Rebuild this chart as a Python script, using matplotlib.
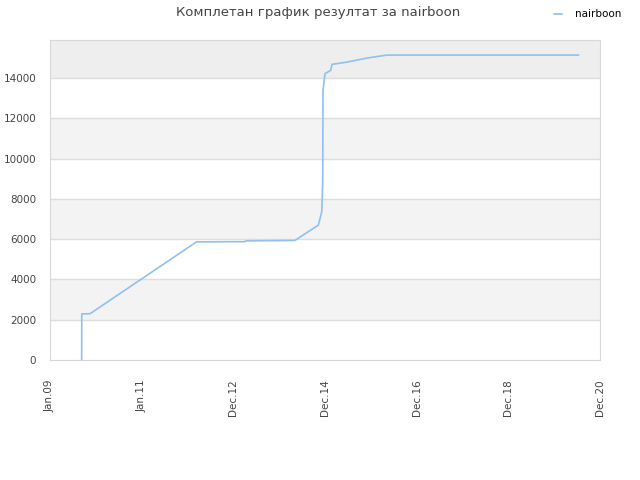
"""Cumulative score chart for nairboon."""
import datetime as dt
import numpy as np
import matplotlib
matplotlib.use('Agg')
import matplotlib.pyplot as plt
import matplotlib.dates as mdates

# data
dates = ['2009-09-10', '2009-09-11', '2009-11-16', '2012-03-13', '2013-04-03',
         '2013-04-10', '2014-05-05', '2014-11-08', '2014-12-05', '2014-12-13',
         '2014-12-15', '2014-12-31', '2015-02-14', '2015-02-25', '2015-06-22',
         '2015-11-28', '2016-05-05', '2020-07-10']
scores = [0, 2290, 2300, 5870, 5880, 5920, 5940, 6700, 7360, 8850,
          13400, 14230, 14390, 14690, 14800, 15000, 15150, 15150]
yticks = [0, 2000, 4000, 6000, 8000, 10000, 12000, 14000]
title = 'Комплетан график резултат за nairboon'
series_name = 'nairboon'

x_start = dt.datetime(2009, 1, 1)
tick_step = 730  # days, ticks are evenly spaced
x_ticks = [x_start + dt.timedelta(days=tick_step * i) for i in range(7)]
ymax = 15900

x = [dt.datetime.strptime(d, '%Y-%m-%d') for d in dates]

fig = plt.figure(figsize=(6.4, 4.8), dpi=100)
ax = fig.add_axes([50 / 640, 120 / 480, 550 / 640, 320 / 480])

# alternating bands
band_edges = yticks + [ymax]
for i in range(len(band_edges) - 1):
    if i % 2 == 1:
        col = '#eeeeee' if i == len(band_edges) - 2 else '#f3f3f3'
        ax.axhspan(band_edges[i], band_edges[i + 1], color=col, lw=0, zorder=0)
for yt in yticks[1:]:
    ax.axhline(yt, color='#dddddd', lw=1, zorder=1)

ax.plot(x, scores, color='#8fc0f0', lw=1.2, zorder=3, label=series_name)

ax.set_xlim(x_ticks[0], x_ticks[-1])
ax.set_ylim(0, ymax)
ax.set_xticks(x_ticks)
ax.set_xticklabels([t.strftime('%b.%y') for t in x_ticks], rotation=90,
                   fontsize=7.5, color='#444444')
ax.set_yticks(yticks)
ax.set_yticklabels([str(v) for v in yticks], fontsize=7.5, color='#444444')
ax.tick_params(axis='x', length=0, pad=14)
ax.tick_params(axis='y', length=0, pad=10)
for s in ax.spines.values():
    s.set_color('#d8d8d8')

fig.text(0.497, 0.974, title, ha='center', va='center', fontsize=9.5,
         color='#444444')
fig.legend(loc='upper right', bbox_to_anchor=(0.985, 1.0), frameon=False,
           fontsize=7.5, handlelength=0.8, handletextpad=1.2)

fig.savefig('out.png', dpi=100)
